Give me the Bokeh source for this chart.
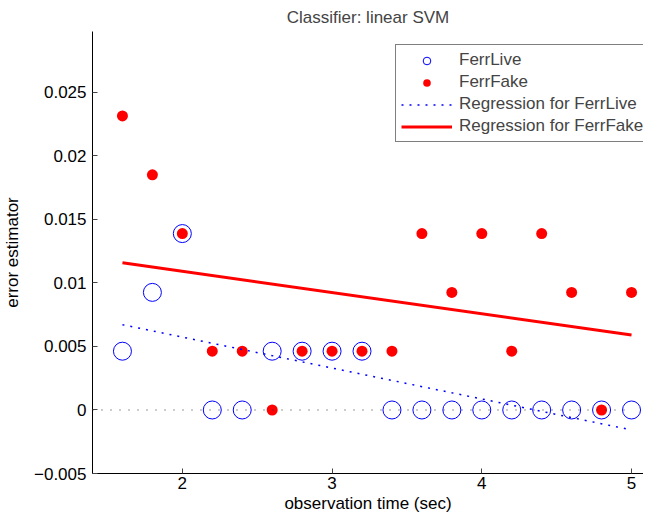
import numpy as np
from bokeh.plotting import figure
from bokeh.models import FixedTicker, Legend, LegendItem, Range1d, Title
from bokeh.embed import file_html
from bokeh.resources import INLINE

# ---- data ----
obs_time = [1.6, 1.8, 2.0, 2.2, 2.4, 2.6, 2.8, 3.0, 3.2, 3.4, 3.6, 3.8, 4.0, 4.2, 4.4, 4.6, 4.8, 5.0]
ferr_live = [0.00463, 0.00926, 0.01389, 0.0, 0.0, 0.00463, 0.00463, 0.00463, 0.00463,
             0.0, 0.0, 0.0, 0.0, 0.0, 0.0, 0.0, 0.0, 0.0]
ferr_fake = [0.02315, 0.01852, 0.01389, 0.00463, 0.00463, 0.0, 0.00463, 0.00463, 0.00463,
             0.00463, 0.01389, 0.00926, 0.01389, 0.00463, 0.01389, 0.00926, 0.0, 0.00926]
zero_x = [1.4, 5.0]
zero_y = [0.0, 0.0]
x_ticks = [2, 3, 4, 5]
y_ticks = [-0.005, 0.0, 0.005, 0.01, 0.015, 0.02, 0.025]
y_tick_labels = ["\u22120.005", "0", "0.005", "0.01", "0.015", "0.02", "0.025"]

# regression lines from the data (least squares)
xa = np.array(obs_time)
live_fit = np.polyfit(xa, np.array(ferr_live), 1)
fake_fit = np.polyfit(xa, np.array(ferr_fake), 1)
reg_x = [obs_time[0], obs_time[-1]]
reg_live = list(np.polyval(live_fit, reg_x))
reg_fake = list(np.polyval(fake_fit, reg_x))

FONT = "Liberation Sans"

p = figure(width=643, height=512, output_backend="svg", toolbar_location=None,
           x_range=Range1d(1.4, 5.08), y_range=Range1d(-0.005, 0.0298),
           min_border_left=87, min_border_right=0, min_border_top=25, min_border_bottom=30,
           title="Classifier: linear SVM")
p.title.align = "center"
p.title.text_font = FONT
p.title.text_font_size = "17px"
p.title.text_font_style = "normal"
p.title.standoff = 10
p.title.offset = 0

p.grid.visible = False
p.outline_line_color = None
p.background_fill_color = "white"
p.border_fill_color = "white"

r_live = p.scatter(obs_time, ferr_live, size=18, marker="circle", fill_color=None,
                   line_color="#0000ff", line_width=1)
r_fake = p.scatter(obs_time, ferr_fake, size=11, marker="circle", fill_color="#ff0000",
                   line_color=None)
r_reg_live = p.line(reg_x, reg_live, line_color="#0000ff", line_width=1.5, line_dash="2 6")
r_reg_fake = p.line(reg_x, reg_fake, line_color="#ff0000", line_width=3)
p.line(zero_x, zero_y, line_color="#333333", line_width=1, line_dash="1 8")

for ax in (p.xaxis[0], p.yaxis[0]):
    ax.major_tick_in = 5
    ax.major_tick_out = 0
    ax.minor_tick_line_color = None
    ax.axis_line_color = "black"
    ax.major_tick_line_color = "#444444"
    ax.major_label_text_font = FONT
    ax.major_label_text_font_size = "17px"
    ax.major_label_text_color = "black"
    ax.axis_label_text_font = FONT
    ax.axis_label_text_font_size = "17px"
    ax.axis_label_text_font_style = "normal"
    ax.axis_label_text_color = "black"

p.xaxis.ticker = FixedTicker(ticks=x_ticks)
p.xaxis.major_label_standoff = 3

p.yaxis.ticker = FixedTicker(ticks=y_ticks)
p.yaxis.major_label_overrides = {t: l for t, l in zip(y_ticks, y_tick_labels)}
p.yaxis.axis_label = "error estimator"
p.yaxis.major_label_standoff = 6
p.yaxis.axis_label_standoff = 9

# x-axis label as a bottom title, pinned to the bottom edge
xtitle = Title(text="observation time (sec)", align="center", vertical_align="bottom",
               standoff=0, offset=0, text_font=FONT, text_font_size="17px",
               text_font_style="normal", text_color="black")
p.add_layout(xtitle, "below")

legend = Legend(items=[
    LegendItem(label="FerrLive", renderers=[r_live]),
    LegendItem(label="FerrFake", renderers=[r_fake]),
    LegendItem(label="Regression for FerrLive", renderers=[r_reg_live]),
    LegendItem(label="Regression for FerrFake", renderers=[r_reg_fake]),
], location=(303, 331))
legend.label_text_font = FONT
legend.label_text_font_size = "17px"
legend.glyph_width = 51
legend.glyph_height = 19
legend.label_height = 19
legend.spacing = 2
legend.padding = 5
legend.margin = 0
legend.label_standoff = 7
legend.border_line_color = "black"
legend.border_line_width = 1
legend.background_fill_alpha = 1
p.add_layout(legend, "center")

open("out.html", "w").write(file_html(p, INLINE))
